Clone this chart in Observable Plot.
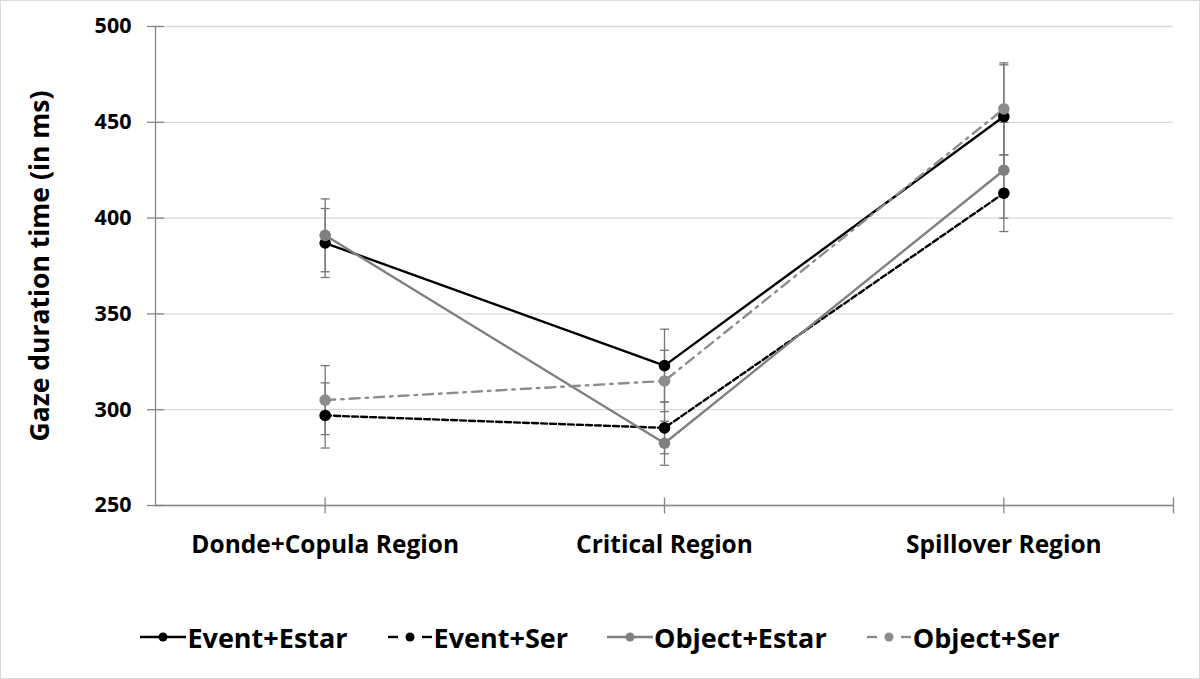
<!DOCTYPE html>
<html><head><meta charset="utf-8">
<script src="https://cdn.jsdelivr.net/npm/d3@7"></script>
<script src="https://cdn.jsdelivr.net/npm/@observablehq/plot@0.6"></script>
<style>
html,body{margin:0;padding:0;background:#fff;}
#wrap{position:relative;width:1200px;height:679px;overflow:hidden;font-family:"Open Sans",sans-serif;}
#frame{position:absolute;left:0;top:0;width:1200px;height:679px;box-sizing:border-box;border:1px solid #d9d9d9;pointer-events:none;}
#legend{position:absolute;left:0;top:617px;width:1200px;height:40px;display:flex;justify-content:center;align-items:center;gap:39px;font-weight:bold;font-size:27px;color:#000;}
.item{display:flex;align-items:center;}
.item svg{display:block;margin-right:1px;}
</style></head><body>
<div id="wrap"><div id="chart"></div><div id="legend"></div><div id="frame"></div></div>
<script>
const categories = ["Donde+Copula Region", "Critical Region", "Spillover Region"];
const series = ["Event+Estar", "Event+Ser", "Object+Estar", "Object+Ser"];
const eventEstar = [387, 323, 453];
const eventSer = [297, 290.5, 413];
const objectEstar = [391, 282.5, 425];
const objectSer = [305, 315, 457];
const eventEstarErr = [18, 19, 27];
const eventSerErr = [17, 13.5, 20];
const objectEstarErr = [19, 11.5, 25];
const objectSerErr = [18, 16, 24];
const yTicks = [250, 300, 350, 400, 450, 500];
const seriesColors = ["#000000", "#000000", "#808080", "#8c8c8c"];
const seriesDash = [undefined, "6,3", undefined, "10,6,2.5,6"];

const means = [eventEstar, eventSer, objectEstar, objectSer];
const errs = [eventEstarErr, eventSerErr, objectEstarErr, objectSerErr];
const data = series.flatMap((s, i) => categories.map((c, j) => ({
  series: s, cat: c, idx: j, mean: means[i][j],
  lo: means[i][j] - errs[i][j], hi: means[i][j] + errs[i][j]
})));

const hline = {draw(ctx, size) { const r = Math.sqrt(size / Math.PI); ctx.moveTo(-r, 0); ctx.lineTo(r, 0); }};
const vline = {draw(ctx, size) { const r = Math.sqrt(size / Math.PI); ctx.moveTo(0, -r); ctx.lineTo(0, r); }};
const xTickPos = [0, 1, 2, 2.5];
const axisColor = "#868686";
const errColor = "#777777";

const chart = Plot.plot({
  width: 1200, height: 580,
  marginLeft: 155, marginRight: 27, marginTop: 26, marginBottom: 75,
  x: {type: "linear", domain: [-0.5, 2.5]},
  y: {domain: [250, 500]},
  style: {fontFamily: "Open Sans", background: "transparent", color: "#000"},
  marks: [
    Plot.gridY(yTicks, {stroke: "#d9d9d9", strokeOpacity: 1, strokeWidth: 1.3}),
    Plot.axisY(yTicks, {tickSize: 0, tickPadding: 24, fontSize: 21.5, fontWeight: "bold", label: null}),
    Plot.axisX(categories.map((c, i) => i), {tickSize: 0, tickPadding: 30, fontSize: 24.5, fontWeight: "bold", tickFormat: i => categories[i], label: null}),
    Plot.ruleX([-0.5], {stroke: axisColor, strokeWidth: 1.3}),
    Plot.ruleY([250], {stroke: axisColor, strokeWidth: 1.3}),
    Plot.dot(yTicks, {x: () => -0.5, y: d => d, symbol: hline, r: 8.5, stroke: axisColor, strokeWidth: 1.3, fill: "none"}),
    Plot.dot(xTickPos, {x: d => d, y: () => 250, symbol: vline, r: 8, stroke: axisColor, strokeWidth: 1.3, fill: "none"}),
    Plot.text(["Gaze duration time (in ms)"], {frameAnchor: "left", rotate: -90, dx: -115, fontSize: 26.5, fontWeight: "bold", textAnchor: "middle", fill: "#000"}),
    Plot.ruleX(data, {x: "idx", y1: "lo", y2: "hi", stroke: errColor, strokeWidth: 1.3}),
    Plot.dot(data, {x: "idx", y: "lo", symbol: hline, r: 4.5, stroke: errColor, strokeWidth: 1.3, fill: "none"}),
    Plot.dot(data, {x: "idx", y: "hi", symbol: hline, r: 4.5, stroke: errColor, strokeWidth: 1.3, fill: "none"}),
    ...series.map((s, i) => Plot.line(data.filter(d => d.series === s), {x: "idx", y: "mean", stroke: seriesColors[i], strokeWidth: 2.4, strokeDasharray: seriesDash[i]})),
    ...series.map((s, i) => Plot.dot(data.filter(d => d.series === s), {x: "idx", y: "mean", r: 5.8, fill: seriesColors[i], stroke: "none"}))
  ]
});
document.getElementById("chart").appendChild(chart);

// legend
const legend = d3.select("#legend");
series.forEach((s, i) => {
  const item = legend.append("div").attr("class", "item");
  const svg = item.append("svg").attr("width", 46).attr("height", 20);
  if (seriesDash[i]) {
    svg.append("line").attr("x1", 1).attr("x2", 11).attr("y1", 10).attr("y2", 10).attr("stroke", seriesColors[i]).attr("stroke-width", 2.4);
    svg.append("line").attr("x1", 35).attr("x2", 45).attr("y1", 10).attr("y2", 10).attr("stroke", seriesColors[i]).attr("stroke-width", 2.4);
  } else {
    svg.append("line").attr("x1", 0).attr("x2", 46).attr("y1", 10).attr("y2", 10).attr("stroke", seriesColors[i]).attr("stroke-width", 2.4);
  }
  svg.append("circle").attr("cx", 23).attr("cy", 10).attr("r", 4.5).attr("fill", seriesColors[i]);
  item.append("span").text(s);
});
</script>
</body></html>
